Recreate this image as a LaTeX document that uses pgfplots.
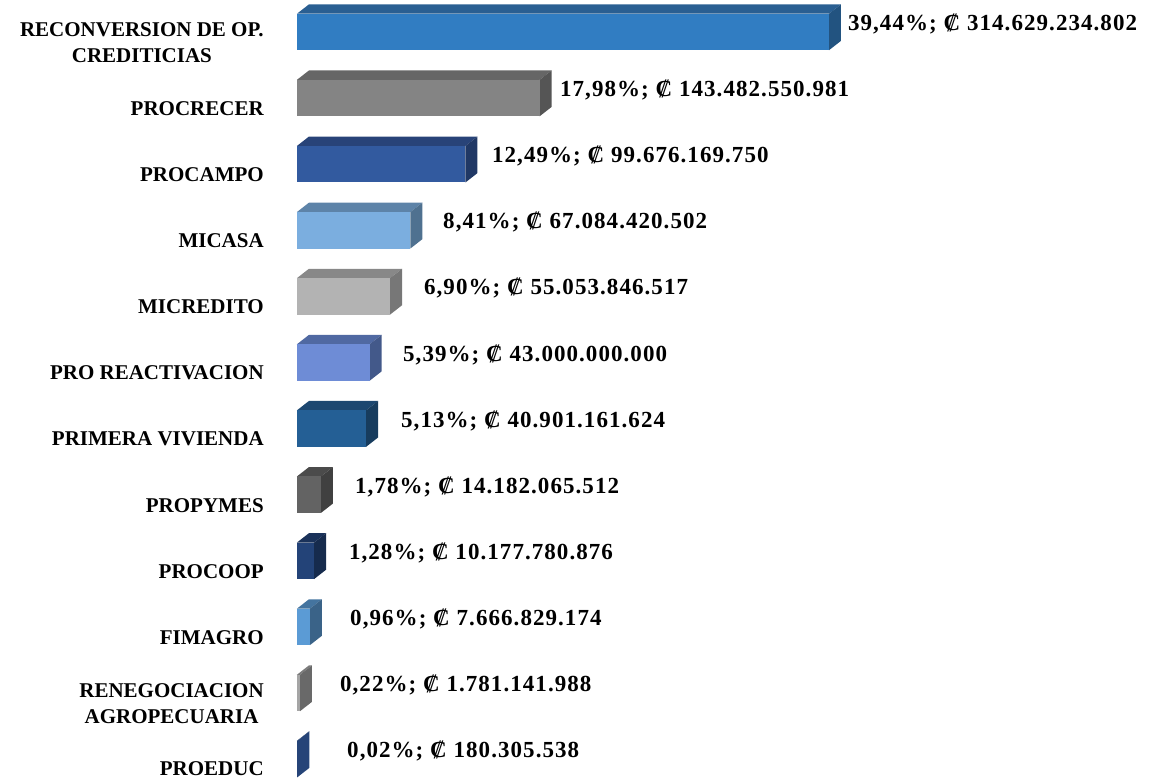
\documentclass[border=0pt]{standalone}
\usepackage{pgfplots}
\usepackage{fontspec}
\pgfplotsset{compat=1.18}
\setmainfont{Liberation Serif}
\newfontfamily\datafont[LetterSpace=4.6]{Liberation Serif}
\definecolor{f0}{HTML}{317DC2}\definecolor{t0}{HTML}{2A5F92}\definecolor{s0}{HTML}{225380}
\definecolor{f1}{HTML}{848484}\definecolor{t1}{HTML}{666666}\definecolor{s1}{HTML}{555555}
\definecolor{f2}{HTML}{325A9F}\definecolor{t2}{HTML}{284378}\definecolor{s2}{HTML}{203865}
\definecolor{f3}{HTML}{7BAEDF}\definecolor{t3}{HTML}{5D83A8}\definecolor{s3}{HTML}{4F7190}
\definecolor{f4}{HTML}{B3B3B3}\definecolor{t4}{HTML}{888888}\definecolor{s4}{HTML}{777777}
\definecolor{f5}{HTML}{6E8CD6}\definecolor{t5}{HTML}{5069A2}\definecolor{s5}{HTML}{43598A}
\definecolor{f6}{HTML}{245F95}\definecolor{t6}{HTML}{1C4770}\definecolor{s6}{HTML}{173C5E}
\definecolor{f7}{HTML}{636363}\definecolor{t7}{HTML}{4B4B4B}\definecolor{s7}{HTML}{404040}
\definecolor{f8}{HTML}{234378}\definecolor{t8}{HTML}{1A325A}\definecolor{s8}{HTML}{162B4D}
\definecolor{f9}{HTML}{5B9BD5}\definecolor{t9}{HTML}{44749F}\definecolor{s9}{HTML}{3A6388}
\definecolor{f10}{HTML}{A5A5A5}\definecolor{t10}{HTML}{7C7C7C}\definecolor{s10}{HTML}{696969}
\definecolor{f11}{HTML}{264478}\definecolor{t11}{HTML}{1D3359}\definecolor{s11}{HTML}{264478}
\newcommand{\threeD}[2]{% index, value in thousand millions
  \pgfmathsetmacro{\xa}{#2+7.1}
  \pgfmathsetmacro{\xb}{#2}
  \pgfmathsetmacro{\yt}{#1-0.276}
  \pgfmathsetmacro{\yb}{#1+0.276}
  \pgfmathsetmacro{\ytt}{#1-0.276-0.142}
  \pgfmathsetmacro{\ybb}{#1+0.276-0.142}
  \addplot[fill=t#1,draw=none] coordinates {(0,\yt) (\xb,\yt) (\xa,\ytt) (7.1,\ytt)} --cycle;
  \addplot[fill=s#1,draw=none] coordinates {(\xb,\yt) (\xa,\ytt) (\xa,\ybb) (\xb,\yb)} --cycle;
  \addplot[xbar,bar shift=0pt,bar width=36.5pt,fill=f#1,draw=none] coordinates {(#2,#1)};
}
\newcommand{\lab}[3]{\node[anchor=west,inner sep=0pt,font=\datafont\bfseries\fontsize{23}{26}\selectfont] at (axis cs:#1,#2) {#3};}
\begin{document}
\begin{tikzpicture}
\path[use as bounding box] (0,0) rectangle (1159pt,778pt);
\begin{axis}[
  scale only axis,width=1159pt,height=778pt,
  xmin=-175.6,xmax=509.8,ymin=-0.484,ymax=11.286,
  y dir=reverse,
  axis x line=none,
  axis y line=middle,
  axis line style={draw=none},
  major tick length=0pt,
  clip=false,
  ytick={0,1,2,3,4,5,6,7,8,9,10,11},
  yticklabels={{RECONVERSION DE OP.\\CREDITICIAS},PROCRECER,PROCAMPO,MICASA,MICREDITO,PRO REACTIVACION,PRIMERA VIVIENDA,PROPYMES,PROCOOP,FIMAGRO,{RENEGOCIACION\\AGROPECUARIA},\raisebox{3pt}{PROEDUC}},
  y tick label style={anchor=east,align=center,inner sep=0pt,xshift=-33pt,yshift=-10.5pt,font=\bfseries\fontsize{21}{26.5}\selectfont},
]
\threeD{0}{314.629}
\threeD{1}{143.483}
\threeD{2}{99.676}
\threeD{3}{67.084}
\threeD{4}{55.054}
\threeD{5}{43.000}
\threeD{6}{40.901}
\threeD{7}{14.182}
\threeD{8}{10.178}
\threeD{9}{7.667}
\threeD{10}{1.781}
\threeD{11}{0.180}
\lab{325.8}{-0.121}{39,44\%; ₡ 314.629.234.802}
\lab{155.5}{0.879}{17,98\%; ₡ 143.482.550.981}
\lab{115.3}{1.879}{12,49\%; ₡ 99.676.169.750}
\lab{86.4}{2.879}{8,41\%; ₡ 67.084.420.502}
\lab{75.1}{3.879}{6,90\%; ₡ 55.053.846.517}
\lab{62.7}{4.879}{5,39\%; ₡ 43.000.000.000}
\lab{61.5}{5.879}{5,13\%; ₡ 40.901.161.624}
\lab{34.3}{6.879}{1,78\%; ₡ 14.182.065.512}
\lab{30.7}{7.879}{1,28\%; ₡ 10.177.780.876}
\lab{31.4}{8.879}{0,96\%; ₡ 7.666.829.174}
\lab{25.4}{9.879}{0,22\%; ₡ 1.781.141.988}
\lab{29.6}{10.879}{0,02\%; ₡ 180.305.538}
\end{axis}
\end{tikzpicture}
\end{document}
